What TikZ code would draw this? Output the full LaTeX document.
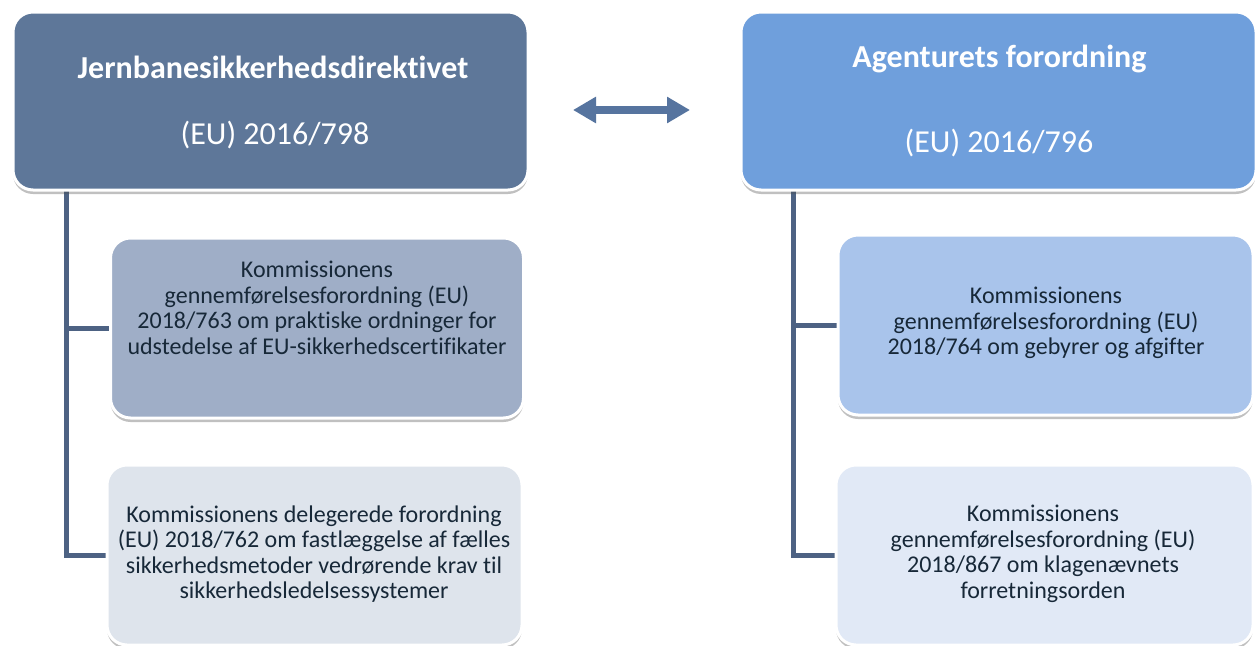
\documentclass[tikz,border=0pt]{standalone}
\usepackage{fontspec}
\setmainfont{Carlito}[Ligatures=NoCommon]
\usepackage{tikz}
\usetikzlibrary{positioning}
\usetikzlibrary{shadows}
\usetikzlibrary{arrows.meta}
\pgfdeclarelayer{nodelayer}
\pgfdeclarelayer{edgelayer}
\pgfsetlayers{edgelayer,nodelayer,main}
\definecolor{leftmain}{HTML}{5E7799}
\definecolor{rightmain}{HTML}{6F9FDC}
\definecolor{leftone}{HTML}{9FAEC7}
\definecolor{lefttwo}{HTML}{DEE4EC}
\definecolor{rightone}{HTML}{A9C4EB}
\definecolor{righttwo}{HTML}{E1E9F6}
\definecolor{linkcol}{HTML}{4D6283}
\definecolor{arrowcol}{HTML}{56749F}
\definecolor{textdark}{HTML}{172838}
\tikzstyle{none}=[inner sep=0pt]
\tikzset{box/.style={draw=white, line width=3pt, rounded corners=20pt, inner sep=0pt,
minimum width=415pt, minimum height=180pt,
drop shadow={shadow xshift=0pt, shadow yshift=-4pt, opacity=.35, fill=black!70}}}
\tikzset{headbox/.style={box, minimum width=515pt, minimum height=178pt}}
\tikzset{title/.style={inner sep=0pt, text=white, font=\fontsize{32}{36}\selectfont\bfseries}}
\tikzset{number/.style={inner sep=0pt, text=white, font=\fontsize{32}{36}\selectfont}}
\tikzset{txt/.style={inner sep=0pt, align=center, text=textdark, font=\fontsize{24}{25.5}\selectfont}}
\tikzset{link/.style={draw=linkcol, line width=5pt}}
\begin{document}
\begin{tikzpicture}[x=1pt, y=-1pt]
    \useasboundingbox (0,0) rectangle (1255,645);
    			\begin{pgfonlayer}{nodelayer}
    				\node [headbox, fill=leftmain] (0) at (270.5, 101) {};
    				\node [headbox, fill=rightmain] (1) at (998.5, 101) {};
    				\node [box, fill=leftone, minimum width=413pt] (2) at (317, 328) {};
    				\node [box, fill=lefttwo] (3) at (314.5, 555) {};
    				\node [box, fill=rightone] (4) at (1045.5, 325) {};
    				\node [box, fill=righttwo, minimum width=417pt] (5) at (1044.5, 555) {};
    				\node [style=none] (6) at (66, 190) {};
    				\node [style=none] (7) at (793, 190) {};
    				\node [style=none] (8) at (573, 110) {};
    				\node [style=none] (9) at (690, 110) {};
    				\node [title] (10) at (273, 67) {Jernbanesikkerhedsdirektivet};
    				\node [number] (11) at (275, 135) {(EU) 2016/798};
    				\node [title] (12) at (999.5, 59) {Agenturets forordning};
    				\node [number] (13) at (999, 143) {(EU) 2016/796};
    				\node [txt] (14) at (317, 308) {Kommissionens\\gennemførelsesforordning (EU)\\2018/763 om praktiske ordninger for\\udstedelse af EU-sikkerhedscertifikater};
    				\node [txt] (15) at (314, 554) {Kommissionens delegerede forordning\\(EU) 2018/762 om fastlæggelse af fælles\\sikkerhedsmetoder vedrørende krav til\\sikkerhedsledelsessystemer};
    				\node [txt] (16) at (1046, 323) {Kommissionens\\gennemførelsesforordning (EU)\\2018/764 om gebyrer og afgifter};
    				\node [txt] (17) at (1043, 554) {Kommissionens\\gennemførelsesforordning (EU)\\2018/867 om klagenævnets\\forretningsorden};
    			\end{pgfonlayer}
    			\begin{pgfonlayer}{edgelayer}
    				\fill [white] (0,0) rectangle (1255,645);
    				\draw [link] (6.center) |- (2.west);
    				\draw [link] (6.center) |- (3.west);
    				\draw [link] (7.center) |- (4.west);
    				\draw [link] (7.center) |- (5.west);
    				\draw [draw=arrowcol, line width=8pt, {Triangle[width=25pt, length=23pt]}-{Triangle[width=25pt, length=23pt]}] (8.center) to (9.center);
    			\end{pgfonlayer}
    		\end{tikzpicture}
\end{document}
